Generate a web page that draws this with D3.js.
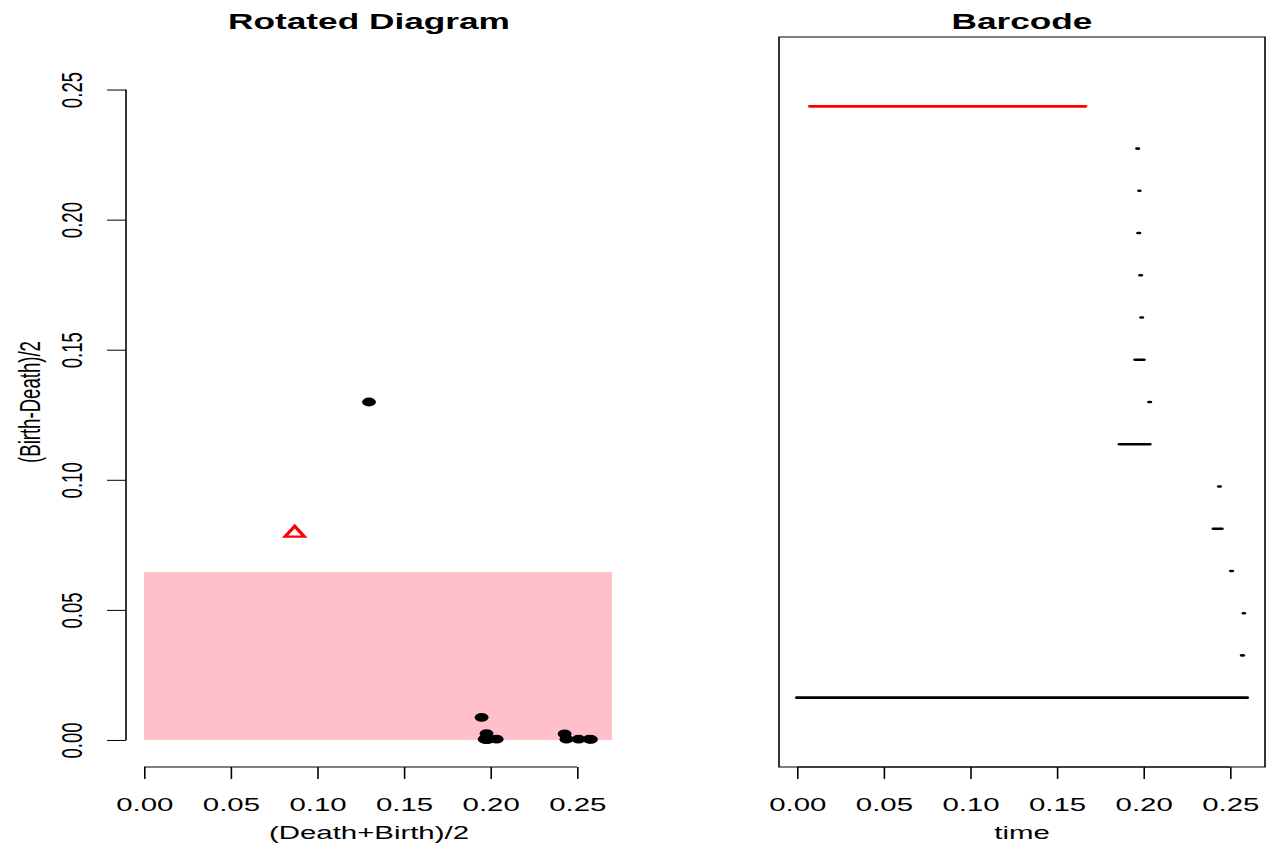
<!DOCTYPE html>
<html>

<head>
	<meta charset="utf-8">
	<title>Rotated Diagram / Barcode</title>
	<script src="https://d3js.org/d3.v7.min.js"></script>
	<style>
		body {
			margin: 0;
			padding: 0;
			background: white;
			overflow: hidden;
		}

		text {
			font-family: "Liberation Sans", Arial, sans-serif;
		}
	</style>
</head>

<body>
	<script>
		// persistence pairs, bottom bar first (same order as the barcode rows)
		var dims = [0, 0, 0, 0, 0, 0, 0, 0, 0, 0, 0, 0, 0, 0, 1];
		var births = [0, 0.2569, 0.2578, 0.2506, 0.2405, 0.2436, 0.1862, 0.2033, 0.1953, 0.1987, 0.1981, 0.1970, 0.1976, 0.1964, 0.0075];
		var deaths = [0.2598, 0.2575, 0.2582, 0.2512, 0.2452, 0.2442, 0.2036, 0.2039, 0.2002, 0.1993, 0.1987, 0.1976, 0.1978, 0.1970, 0.1665];
		var band = 0.0645;
		var tickValues = [0, 0.05, 0.10, 0.15, 0.20, 0.25];
		var titles = ["Rotated Diagram", "Barcode"];
		var xLabels = ["(Death+Birth)/2", "time"];
		var yLabel = "(Birth-Death)/2";
		var colors = ["black", "red"];

		// the whole picture is stretched sideways, like the original device
		var SX = 1.58;
		var width = 1270, height = 846;
		var L = (px) => px / SX;

		var svg = d3.select("body").append("svg")
			.attr("width", width)
			.attr("height", height);
		var root = svg.append("g").attr("transform", "scale(" + SX + ",1)");

		var plotTop = 37, plotBottom = 767;
		var left1 = 126, right1 = 612;
		var left2 = 779, right2 = 1265;

		function expand(lo, hi) {
			var d = (hi - lo) * 0.04;
			return [lo - d, hi + d];
		}

		var pairs = births.map((b, i) => ({
			i: i + 1,
			dim: dims[i],
			birth: b,
			death: deaths[i],
			mid: (b + deaths[i]) / 2,
			half: (deaths[i] - b) / 2
		}));

		var diagLim = [0, d3.max(deaths)];
		var fmt = d3.format(".2f");

		// ---------- rotated diagram ----------
		var x1 = d3.scaleLinear().domain(expand(diagLim[0], diagLim[1])).range([L(left1), L(right1)]);
		var y1 = d3.scaleLinear().domain(expand(diagLim[0], diagLim[1])).range([plotBottom, plotTop]);

		root.append("clipPath").attr("id", "clip1")
			.append("rect")
			.attr("x", L(left1)).attr("y", plotTop)
			.attr("width", L(right1) - L(left1)).attr("height", plotBottom - plotTop);

		root.append("rect")
			.attr("clip-path", "url(#clip1)")
			.attr("x", x1(0))
			.attr("y", y1(band))
			.attr("width", x1(x1.domain()[1]) - x1(0))
			.attr("height", y1(0) - y1(band))
			.style("fill", "pink");

		var g1 = root.append("g");
		g1.selectAll("circle")
			.data(pairs.filter((d) => d.dim == 0))
			.enter().append("circle")
			.attr("cx", (d) => x1(d.mid))
			.attr("cy", (d) => y1(d.half))
			.attr("r", 4.4)
			.style("fill", colors[0]);

		g1.selectAll("path.tri")
			.data(pairs.filter((d) => d.dim == 1))
			.enter().append("path")
			.attr("class", "tri")
			.attr("d", d3.symbol().type(d3.symbolTriangle).size(64))
			.attr("transform", (d) => "translate(" + x1(d.mid) + "," + y1(d.half) + ")")
			.style("fill", "none")
			.style("stroke", colors[1])
			.style("stroke-width", 2.4);

		function styleAxis(g) {
			g.select(".domain").remove();
			g.selectAll("line").style("stroke", "black");
			g.selectAll("text").style("font-size", "18.6px").style("fill", "black")
				.style("font-family", "'Liberation Sans', Arial, sans-serif");
		}

		function bottomAxis(x) {
			var g = root.append("g")
				.attr("transform", "translate(0," + plotBottom + ")")
				.call(d3.axisBottom(x).tickValues(tickValues).tickFormat(fmt).tickSize(12).tickSizeOuter(0));
			styleAxis(g);
			g.selectAll("text").attr("y", 44).attr("dy", 0);
			g.append("line")
				.attr("x1", x(tickValues[0])).attr("x2", x(tickValues[tickValues.length - 1]))
				.style("stroke", "black");
		}

		bottomAxis(x1);

		var ga = root.append("g")
			.attr("transform", "translate(" + L(left1) + ",0)")
			.call(d3.axisLeft(y1).tickValues(tickValues).tickFormat(fmt).tickSize(12).tickSizeOuter(0));
		styleAxis(ga);
		ga.selectAll("text")
			.attr("x", 0).attr("dy", 0)
			.attr("text-anchor", "middle")
			.attr("transform", "translate(" + (-L(44)) + ",0) rotate(-90)");
		ga.append("line")
			.attr("y1", y1(tickValues[0])).attr("y2", y1(tickValues[tickValues.length - 1]))
			.style("stroke", "black");

		// ---------- barcode ----------
		var x2 = d3.scaleLinear().domain(expand(diagLim[0], diagLim[1])).range([L(left2), L(right2)]);
		var y2 = d3.scaleLinear().domain(expand(0, pairs.length + 1)).range([plotBottom, plotTop]);

		root.append("rect")
			.attr("x", L(left2)).attr("y", plotTop)
			.attr("width", L(right2) - L(left2)).attr("height", plotBottom - plotTop)
			.style("fill", "none")
			.style("stroke", "black");

		root.append("g").selectAll("line")
			.data(pairs)
			.enter().append("line")
			.attr("x1", (d) => x2(d.birth))
			.attr("x2", (d) => x2(d.death))
			.attr("y1", (d) => y2(d.i))
			.attr("y2", (d) => y2(d.i))
			.style("stroke", (d) => colors[d.dim])
			.style("stroke-width", 2.7)
			.style("stroke-linecap", "round");

		bottomAxis(x2);

		// ---------- titles ----------
		[[left1, right1], [left2, right2]].forEach((r, k) => {
			var cx = L((r[0] + r[1]) / 2);
			root.append("text")
				.attr("x", cx).attr("y", 29)
				.attr("text-anchor", "middle")
				.style("font-weight", "bold")
				.style("font-size", "22.3px")
				.text(titles[k]);
			root.append("text")
				.attr("x", cx).attr("y", 839)
				.attr("text-anchor", "middle")
				.style("font-size", "18.6px")
				.text(xLabels[k]);
		});

		root.append("text")
			.attr("transform", "translate(" + L(40) + "," + (plotTop + plotBottom) / 2 + ") rotate(-90)")
			.attr("text-anchor", "middle")
			.style("font-size", "18.6px")
			.text(yLabel);
	</script>
</body>

</html>
